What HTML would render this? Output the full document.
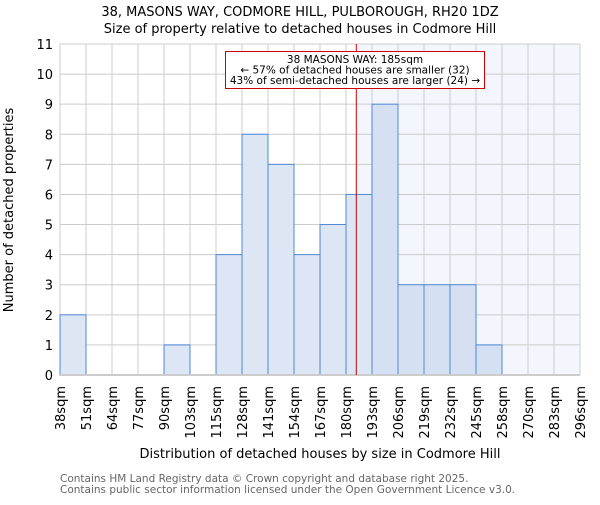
<!DOCTYPE html>
<html><head><meta charset="utf-8"><style>
body{margin:0;background:#fff;width:600px;height:500px;overflow:hidden}
svg{font-family:"DejaVu Sans","Liberation Sans",sans-serif}
</style></head><body>
<svg id="chart" width="600" height="500" viewBox="0 0 600 500" xmlns="http://www.w3.org/2000/svg">
<text x="300" y="16" text-anchor="middle" font-size="13">38, MASONS WAY, CODMORE HILL, PULBOROUGH, RH20 1DZ</text>
<text x="300" y="33" text-anchor="middle" font-size="13">Size of property relative to detached houses in Codmore Hill</text>
<g id="plot"></g>
<text transform="translate(13,210) rotate(-90)" text-anchor="middle" font-size="13">Number of detached properties</text>
<text x="320" y="458" text-anchor="middle" font-size="13">Distribution of detached houses by size in Codmore Hill</text>
<text x="60" y="482" font-size="10.5" fill="#666">Contains HM Land Registry data © Crown copyright and database right 2025.</text>
<text x="60" y="493" font-size="10.5" fill="#666">Contains public sector information licensed under the Open Government Licence v3.0.</text>
</svg>
<script>
const binLabels=["38sqm","51sqm","64sqm","77sqm","90sqm","103sqm","115sqm","128sqm","141sqm","154sqm","167sqm","180sqm","193sqm","206sqm","219sqm","232sqm","245sqm","258sqm","270sqm","283sqm","296sqm"];
const counts=[2,0,0,0,1,0,4,8,7,4,5,6,9,3,3,3,1,0,0,0];
const yTicks=[0,1,2,3,4,5,6,7,8,9,10,11];
const markerValue=185;
const binStart=38, binWidth=12.9;
const X0=60,X1=580,Y0=375,Y1=44,YMAX=11;
const nb=counts.length;
const xi=i=>X0+(X1-X0)*i/nb;
const xv=v=>X0+(X1-X0)*(v-binStart)/(binWidth*nb);
const y=v=>Y0-(Y0-Y1)*v/YMAX;
const g=document.getElementById('plot');
const NS="http://www.w3.org/2000/svg";
function mk(t,a){const e=document.createElementNS(NS,t);for(const k in a)e.setAttribute(k,a[k]);g.appendChild(e);return e;}
const mx=xv(markerValue);
let e=mk('rect',{x:mx,y:Y1,width:X1-mx,height:Y0-Y1,fill:'#f3f6fd'});


yTicks.forEach(t=>{
 let l=mk('line',{x1:X0,x2:X1,y1:y(t),y2:y(t),stroke:'#ccc','stroke-width':1});
 
 
 let tx=mk('text',{x:X0-7,y:y(t)+5,'text-anchor':'end','font-size':13});
 tx.textContent=t;
 
 
});
binLabels.forEach((s,i)=>{
 let l=mk('line',{x1:xi(i),x2:xi(i),y1:Y1,y2:Y0,stroke:'#ccc','stroke-width':1});
 
 
 let tx=mk('text',{transform:`translate(${xi(i)+5},386) rotate(-90)`,'text-anchor':'end','font-size':13});
 tx.textContent=s;
 
 
});
counts.forEach((c,i)=>{
 if(!c)return;
 let r=mk('rect',{x:xi(i),y:y(c),width:xi(i+1)-xi(i),height:Y0-y(c),fill:xi(i)>=mx?'#d6e0f3':'#dde6f4',stroke:'#4f88d8','stroke-width':1});
 
 
});
e=mk('line',{x1:X0,x2:X1,y1:Y0,y2:Y0,stroke:'#ccc','stroke-width':2});


e=mk('line',{x1:mx,x2:mx,y1:Y1,y2:Y0,stroke:'#cc0000','stroke-width':1});


e=mk('rect',{x:225.5,y:51.5,width:259,height:37,fill:'#fff',stroke:'#cc0000','stroke-width':1});


["38 MASONS WAY: 185sqm","← 57% of detached houses are smaller (32)","43% of semi-detached houses are larger (24) →"].forEach((s,k)=>{
 let tx=mk('text',{x:355,y:63+k*10.5,'text-anchor':'middle','font-size':10.5});
 tx.textContent=s;
 
 
});
</script>
</body></html>
